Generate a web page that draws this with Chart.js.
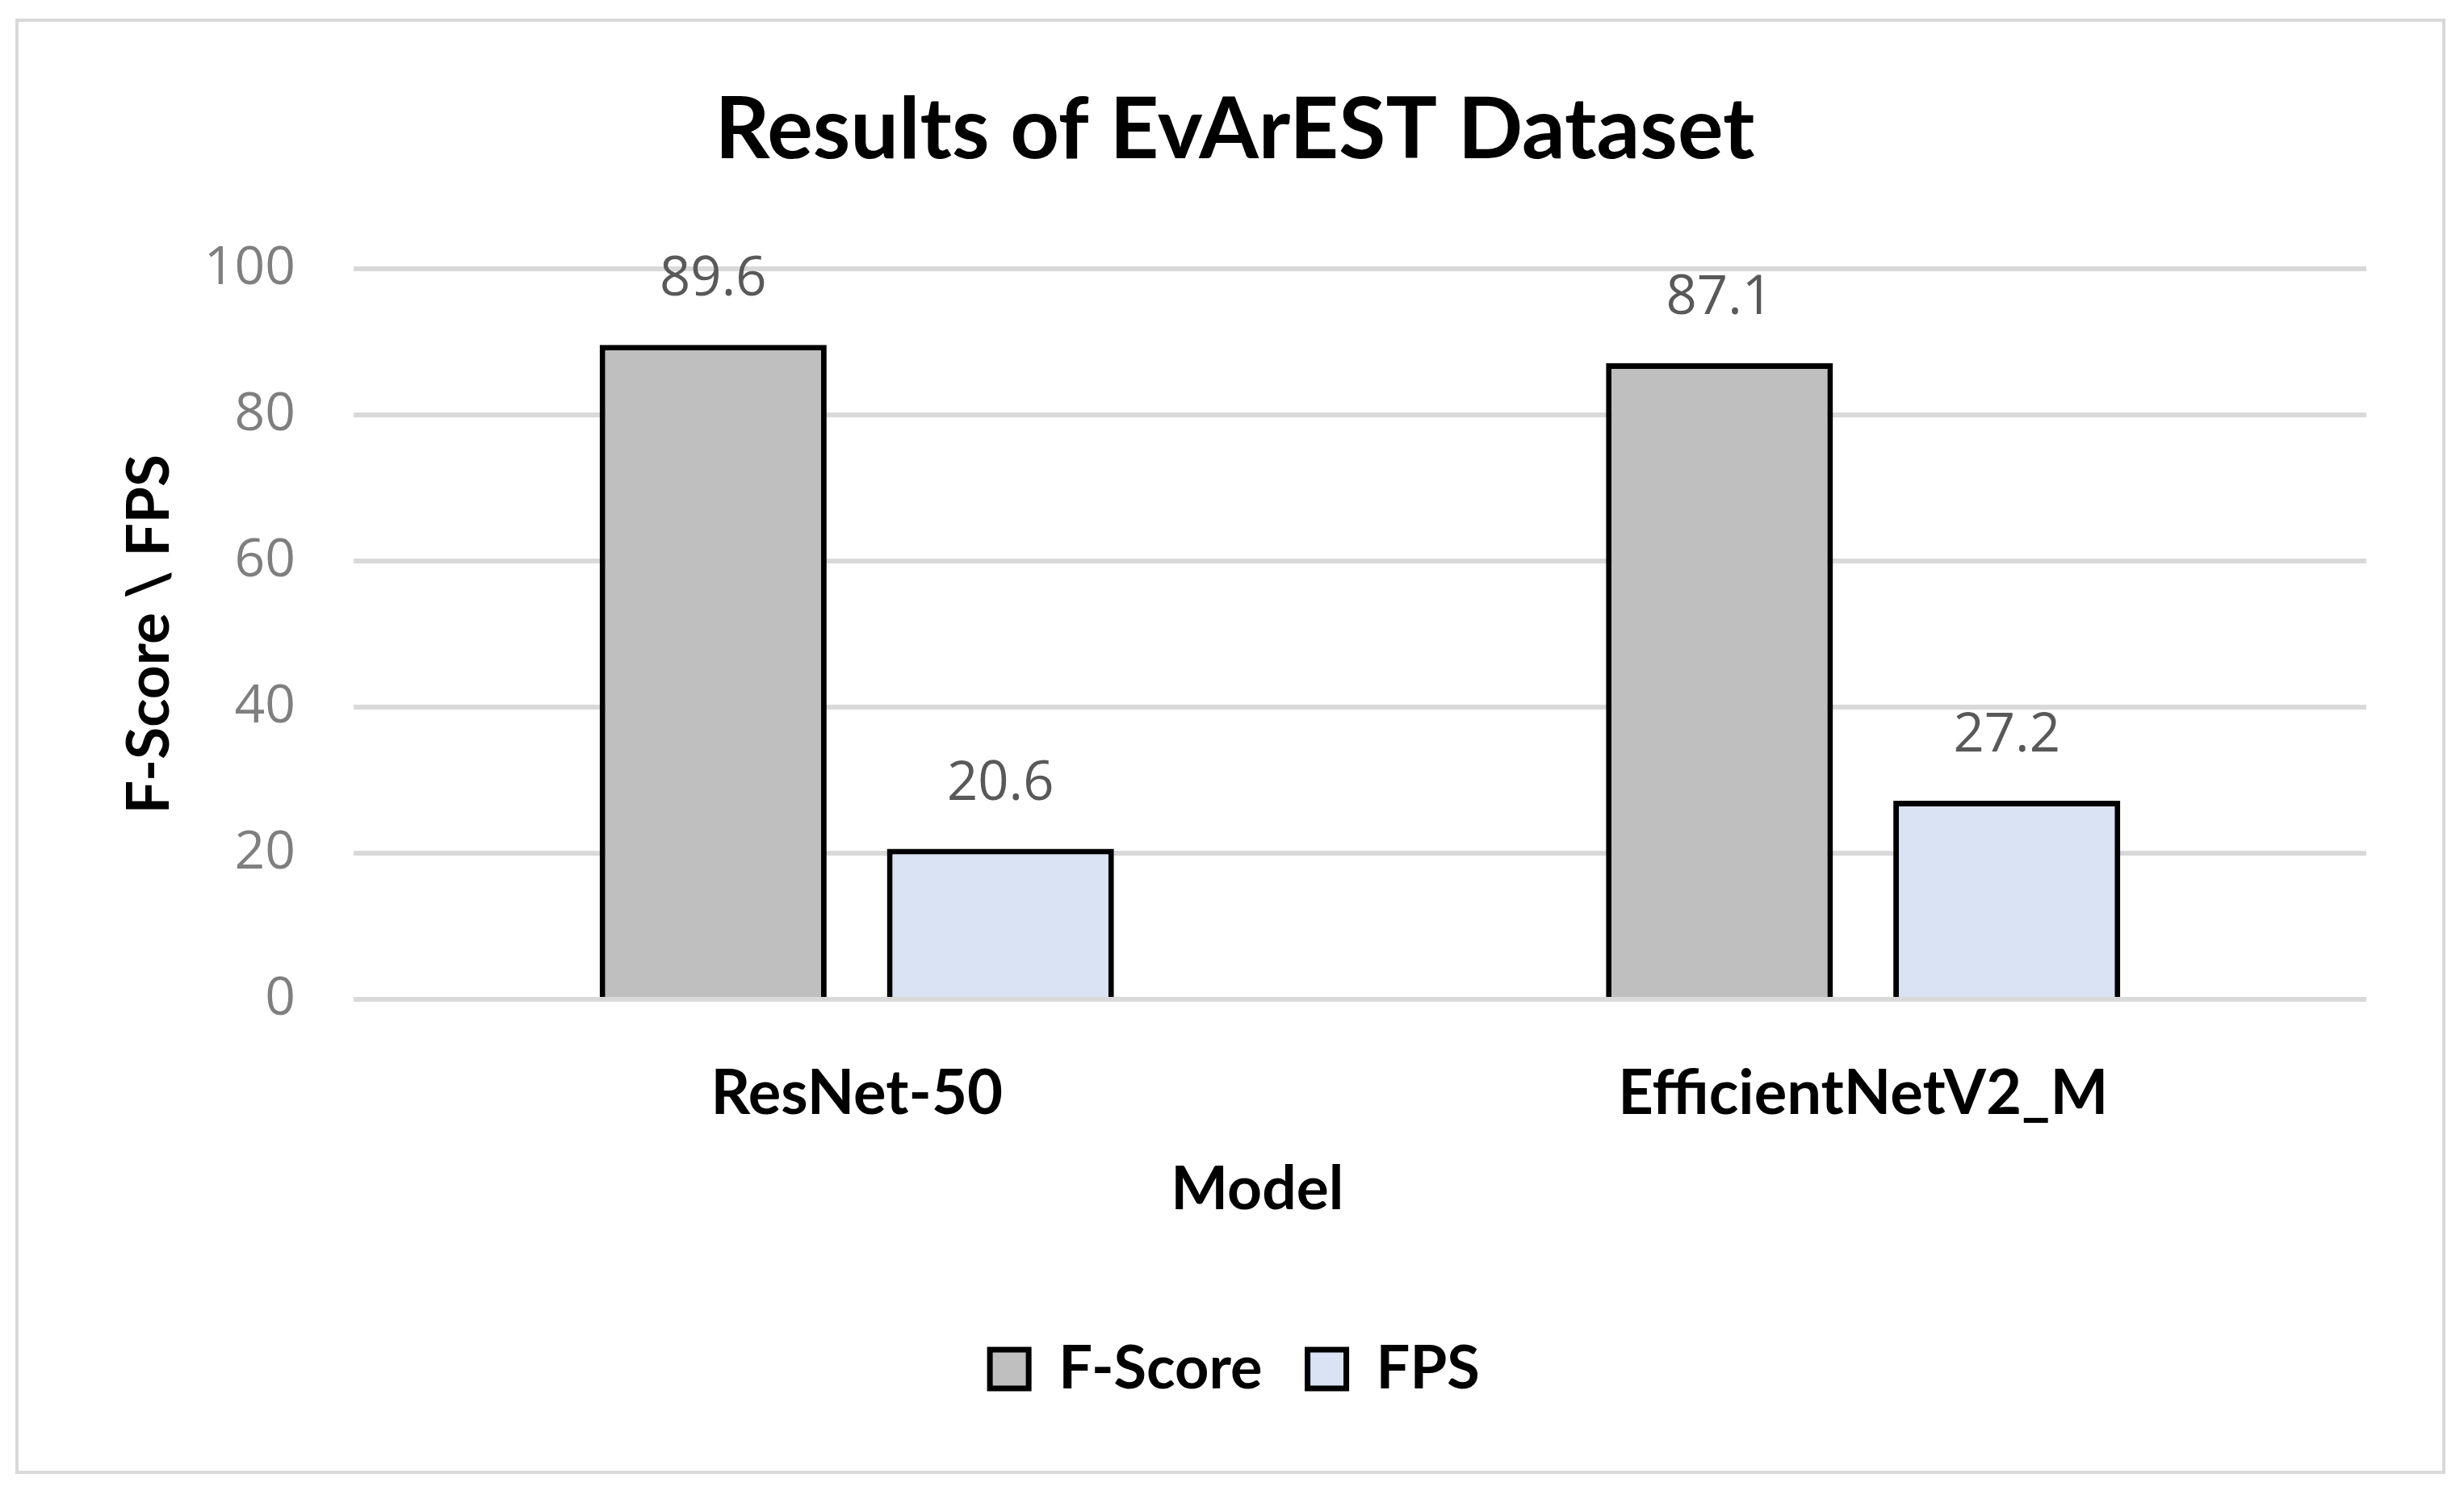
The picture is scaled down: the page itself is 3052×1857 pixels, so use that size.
<!DOCTYPE html>
<html>
<head>
<meta charset="utf-8">
<script src="https://cdn.jsdelivr.net/npm/chart.js@4.4.1/dist/chart.umd.min.js"></script>
<style>
  html, body { margin: 0; padding: 0; background: #ffffff; }
  #wrap { position: relative; width: 3052px; height: 1857px; }
  #frame { position: absolute; left: 19px; top: 23px; width: 3002px; height: 1795px; border: 4px solid #d9d9d9; pointer-events: none; }
  canvas { position: absolute; left: 0; top: 0; }
</style>
</head>
<body>
<div id="wrap">
  <canvas id="c" width="3052" height="1857" style="width:3052px;height:1857px"></canvas>
  <div id="frame"></div>
</div>
<script>
const categories = ["ResNet-50", "EfficientNetV2_M"];
const seriesNames = ["F-Score", "FPS"];
const fScore = [89.6, 87.1];
const fps = [20.6, 27.2];
const yTicks = [0, 20, 40, 60, 80, 100];

const chartTitle = "Results of EvArEST Dataset";
const xTitle = "Model";
const yTitle = "F-Score \\ FPS";

const BOLD = "Lato";
const NUM = "'Open Sans'";

const valueLabels = {
  id: 'valueLabels',
  afterDatasetsDraw(chart) {
    const ctx = chart.ctx;
    ctx.save();
    ctx.font = "67px " + NUM;
    ctx.fillStyle = "#595959";
    ctx.textAlign = "center";
    ctx.textBaseline = "middle";
    chart.data.datasets.forEach((ds, di) => {
      const meta = chart.getDatasetMeta(di);
      meta.data.forEach((el, i) => {
        ctx.fillText(ds.data[i].toFixed(1), el.x, el.y - 80);
      });
    });
    ctx.restore();
  }
};

const xAxisTitle = {
  id: 'xAxisTitle',
  afterDraw(chart) {
    const ctx = chart.ctx;
    const a = chart.chartArea;
    const xs = chart.scales.x;
    ctx.save();
    ctx.font = "bold 75px " + BOLD;
    ctx.fillStyle = "#000000";
    ctx.textAlign = "center";
    ctx.textBaseline = "middle";
    ctx.fillText(xTitle, a.left + (a.right - a.left) * 0.449, xs.bottom - 129);
    ctx.restore();
  }
};

new Chart(document.getElementById('c'), {
  type: 'bar',
  data: {
    labels: categories,
    datasets: [
      { label: seriesNames[0], data: fScore, backgroundColor: "#bfbfbf", borderColor: "#000000", borderWidth: 7 },
      { label: seriesNames[1], data: fps, backgroundColor: "#dae3f3", borderColor: "#000000", borderWidth: 7 }
    ]
  },
  options: {
    responsive: false,
    devicePixelRatio: 1,
    animation: false,
    categoryPercentage: 0.571,
    barPercentage: 0.79,
    layout: { padding: { left: 128, right: 121, top: 0, bottom: 114 } },
    plugins: {
      title: {
        display: true,
        text: chartTitle,
        color: "#000000",
        font: { family: BOLD, size: 106, weight: 'bold', lineHeight: 1.2 },
        padding: { top: 98, bottom: 108 }
      },
      legend: {
        display: true,
        position: 'bottom',
        labels: {
          color: "#000000",
          font: { family: BOLD, size: 74, weight: 'bold' },
          boxWidth: 48,
          boxHeight: 48,
          padding: 56,
          generateLabels(chart) {
            return chart.data.datasets.map((ds, i) => ({
              text: ds.label,
              fillStyle: ds.backgroundColor,
              strokeStyle: "#000000",
              lineWidth: 7,
              datasetIndex: i,
              hidden: false
            }));
          }
        }
      },
      tooltip: { enabled: false }
    },
    scales: {
      x: {
        grid: { display: false },
        border: { display: false },
        ticks: { color: "#000000", font: { family: BOLD, size: 76, weight: 'bold', lineHeight: 1.2 }, padding: 64 },
        afterFit(scale) { scale.height = 365; }
      },
      y: {
        min: 0,
        max: 100,
        afterBuildTicks(scale) { scale.ticks = yTicks.map(v => ({ value: v })); },
        grid: { color: "#d9d9d9", lineWidth: 6, drawTicks: false },
        border: { display: false },
        ticks: { color: "#7f7f7f", font: { family: NUM, size: 66 }, padding: 72 },
        title: {
          display: true,
          text: yTitle,
          color: "#000000",
          font: { family: BOLD, size: 73, weight: 'bold', lineHeight: 1.2 },
          padding: { top: 14, bottom: 0 }
        },
        afterFit(scale) { scale.width = 310; }
      }
    }
  },
  plugins: [valueLabels, xAxisTitle]
});
</script>
</body>
</html>
